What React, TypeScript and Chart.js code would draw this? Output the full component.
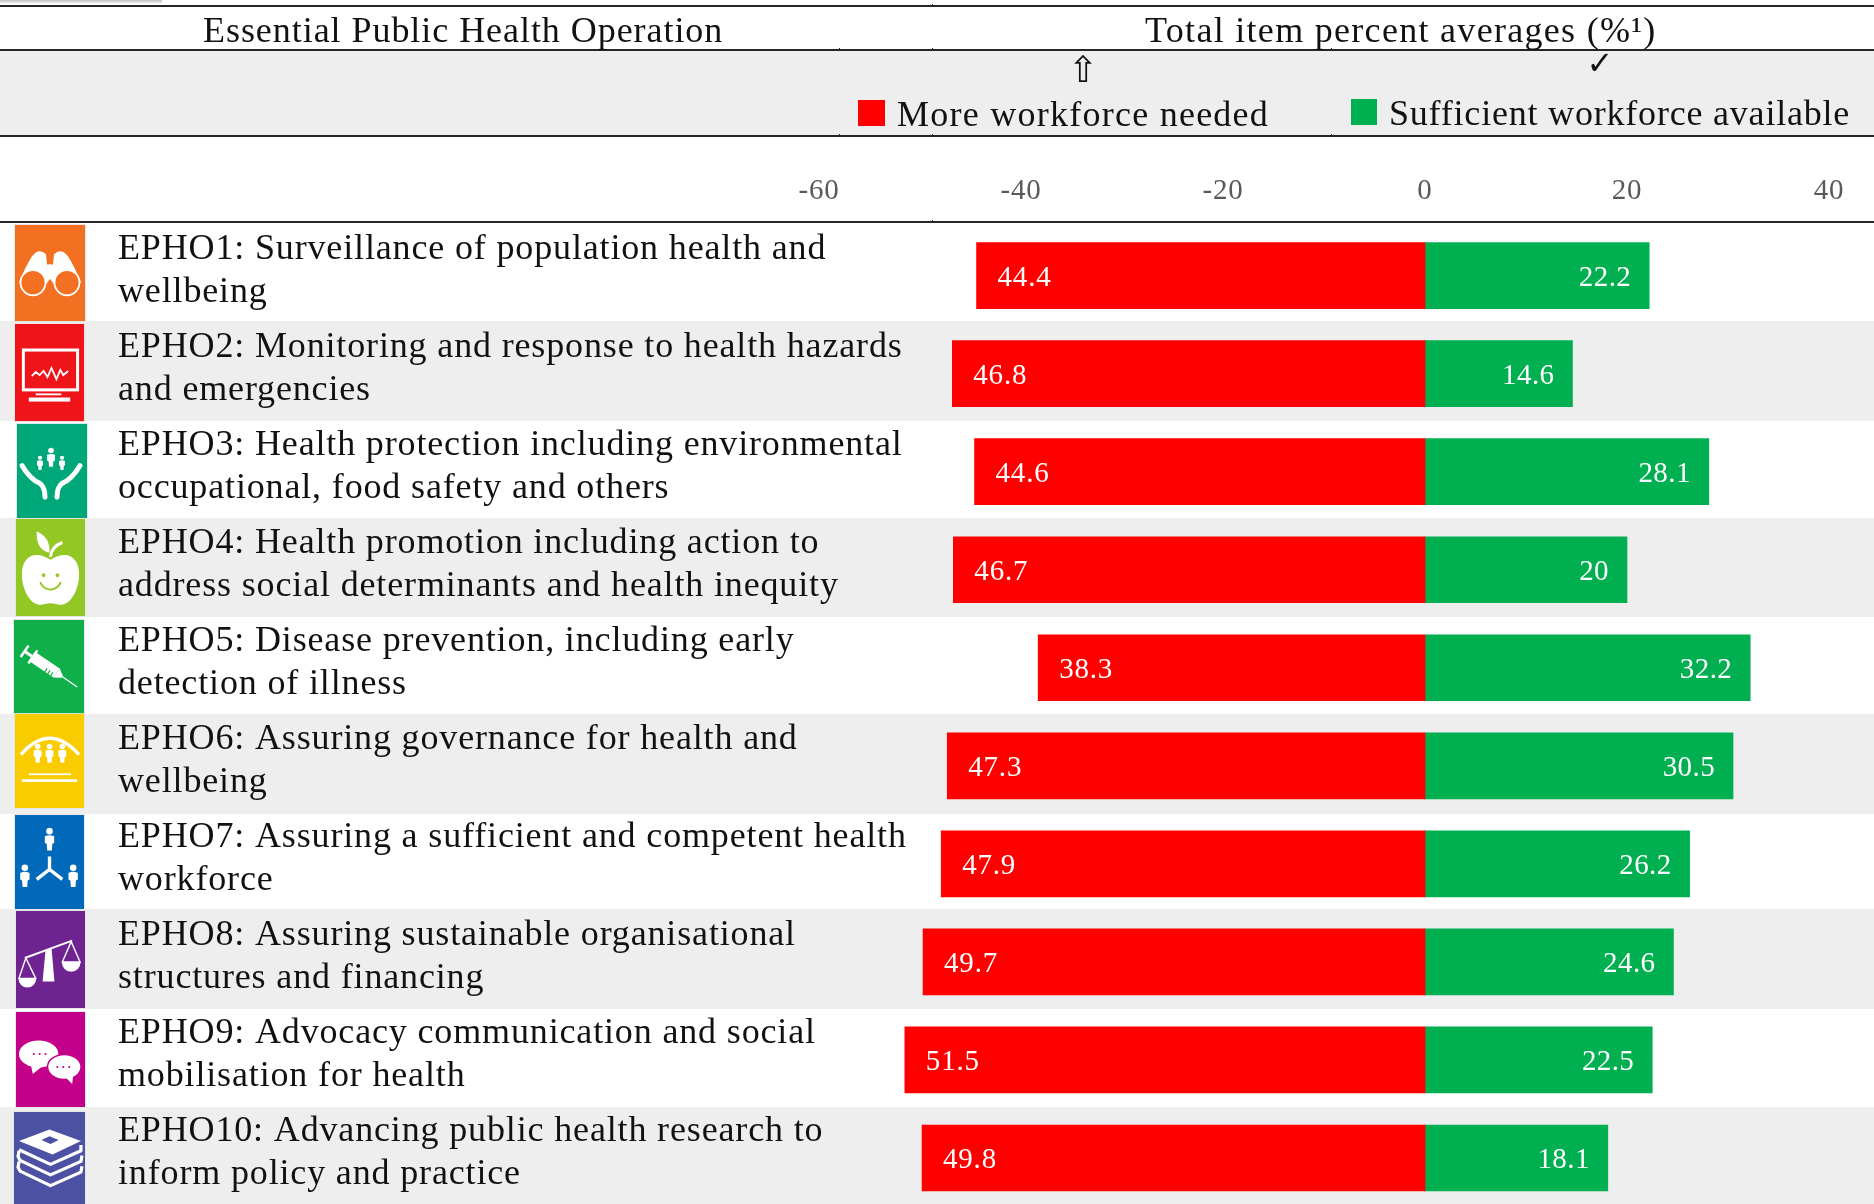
import React, { useEffect, useRef } from "react";
import { Chart, registerables } from "chart.js";

Chart.register(...registerables);

// ---- chart values ----
const categories = [
  ["EPHO1: Surveillance of population health and", "wellbeing"],
  ["EPHO2: Monitoring and response to health hazards", "and emergencies"],
  ["EPHO3: Health protection including environmental", "occupational, food safety and others"],
  ["EPHO4: Health promotion including action to", "address social determinants and health inequity"],
  ["EPHO5: Disease prevention, including early", "detection of illness"],
  ["EPHO6: Assuring governance for health and", "wellbeing"],
  ["EPHO7: Assuring a sufficient and competent health", "workforce"],
  ["EPHO8: Assuring sustainable organisational", "structures and financing"],
  ["EPHO9: Advocacy communication and social", "mobilisation for health"],
  ["EPHO10: Advancing public health research to", "inform policy and practice"],
];
const moreWorkforceNeeded = [-44.4, -46.8, -44.6, -46.7, -38.3, -47.3, -47.9, -49.7, -51.5, -49.8];
const sufficientWorkforce = [22.2, 14.6, 28.1, 20, 32.2, 30.5, 26.2, 24.6, 22.5, 18.1];
const columnTitles = ["Essential Public Health Operation", "Total item percent averages (%¹)"];
const seriesLabels = ["More workforce needed", "Sufficient workforce available"];

// ---- styling and table layout ----
const SERIF = '"Liberation Serif", serif';
const RED = "#FF0000";
const GREEN = "#00B050";
const BAND = "#EEEEEE";
const LINE = "#262626";
const TRACKING = "0.85px";
const ROW_LIFT = 4.5;
const HEAD_LINES = [6, 50, 136, 222];
const BANDS: [number, number][] = [[50, 136], [321, 421], [518, 617], [714, 814], [909, 1009], [1107, 1207]];
const STUBS: [number, number][] = [[932, 6], [932, 50], [839, 50], [932, 136], [839, 136], [1331, 136], [932, 222], [1331, 50]];
const ICON_COLOURS = ["#F36F21", "#EF1419", "#00A778", "#93C724", "#0FB04A", "#F9CC00", "#0069B9", "#6F2391", "#C4008A", "#4D51A3"];
const ICON_BOXES: [number, number, number, number][] = [
  [15, 225, 70, 96], [15, 324, 69, 97], [17, 424, 70, 94], [16, 519, 69, 97], [14, 620, 70, 94],
  [15, 714, 69, 94], [15, 815, 69, 94], [16, 911, 69, 97], [16, 1012, 69, 95], [14, 1112, 71, 92],
];

type Ctx = CanvasRenderingContext2D;

const disc = (c: Ctx, x: number, y: number, r: number) => {
  c.beginPath();
  c.arc(x, y, r, 0, Math.PI * 2);
  c.fill();
};
const oval = (c: Ctx, x: number, y: number, rx: number, ry: number) => {
  c.beginPath();
  c.ellipse(x, y, rx, ry, 0, 0, Math.PI * 2);
  c.fill();
};
const poly = (c: Ctx, pts: number[], close = true) => {
  c.beginPath();
  c.moveTo(pts[0], pts[1]);
  for (let i = 2; i < pts.length; i += 2) c.lineTo(pts[i], pts[i + 1]);
  if (close) c.closePath();
};
const person = (c: Ctx, x: number, y: number, s: number) => {
  disc(c, x, y + 3.5 * s, 3.5 * s);
  c.beginPath();
  c.moveTo(x - 5 * s, y + 9 * s);
  c.quadraticCurveTo(x, y + 6.5 * s, x + 5 * s, y + 9 * s);
  c.lineTo(x + 5 * s, y + 16 * s);
  c.lineTo(x + 3 * s, y + 17 * s);
  c.lineTo(x + 2.5 * s, y + 24 * s);
  c.lineTo(x - 2.5 * s, y + 24 * s);
  c.lineTo(x - 3 * s, y + 17 * s);
  c.lineTo(x - 5 * s, y + 16 * s);
  c.closePath();
  c.fill();
};

// Pictograms for the ten operations, in a 70 x 95 box, white on the tile colour.
const pictograms: ((c: Ctx, bg: string) => void)[] = [
  (c, bg) => {
    for (const m of [1, -1]) {
      c.save();
      if (m < 0) { c.translate(70, 0); c.scale(-1, 1); }
      c.beginPath();
      c.moveTo(4, 57);
      c.quadraticCurveTo(10, 42, 17, 31);
      c.quadraticCurveTo(24, 22, 31, 29);
      c.lineTo(32, 39);
      c.lineTo(36, 39);
      c.lineTo(36, 52);
      c.lineTo(30, 60);
      c.closePath();
      c.fill();
      c.beginPath();
      c.arc(18, 57, 12.5, 0, Math.PI * 2);
      c.fillStyle = bg;
      c.fill();
      c.strokeStyle = "#fff";
      c.lineWidth = 1.8;
      c.stroke();
      c.restore();
    }
  },
  (c) => {
    c.lineWidth = 3;
    c.strokeRect(8.5, 25.5, 55, 39);
    c.lineWidth = 1.8;
    poly(c, [17, 51, 21, 47, 25, 50, 29, 46, 33, 52, 37, 43, 42, 54, 46, 45, 49, 50, 54, 46], false);
    c.stroke();
    c.fillRect(21, 68, 26, 1.8);
    c.fillRect(14, 72, 42, 4);
  },
  (c) => {
    person(c, 34, 24, 0.8);
    person(c, 23, 32, 0.6);
    person(c, 45, 32, 0.6);
    c.lineWidth = 5;
    c.lineCap = "round";
    for (const m of [1, -1]) {
      c.save();
      if (m < 0) { c.translate(68, 0); c.scale(-1, 1); }
      c.beginPath();
      c.moveTo(5, 42);
      c.quadraticCurveTo(13, 56, 23, 60);
      c.quadraticCurveTo(28, 64, 28, 74);
      c.stroke();
      c.restore();
    }
  },
  (c, bg) => {
    c.beginPath();
    c.moveTo(35, 40);
    c.bezierCurveTo(20, 30, 5, 36, 6, 56);
    c.bezierCurveTo(7, 72, 16, 85, 26, 84);
    c.quadraticCurveTo(35, 81, 44, 84);
    c.bezierCurveTo(54, 85, 63, 72, 64, 56);
    c.bezierCurveTo(65, 36, 50, 30, 35, 40);
    c.fill();
    c.beginPath();
    c.moveTo(21, 12);
    c.quadraticCurveTo(35, 18, 34, 33);
    c.quadraticCurveTo(20, 30, 21, 12);
    c.fill();
    c.lineWidth = 3;
    c.beginPath();
    c.moveTo(35, 37);
    c.quadraticCurveTo(36, 27, 47, 23);
    c.stroke();
    c.fillStyle = bg;
    c.strokeStyle = bg;
    disc(c, 28, 55, 1.8);
    disc(c, 42, 55, 1.8);
    c.lineWidth = 1.8;
    c.beginPath();
    c.arc(35, 58, 11, 0.35, Math.PI - 0.35);
    c.stroke();
  },
  (c, bg) => {
    c.translate(36, 49);
    c.rotate(0.6);
    c.fillRect(-22, -5.5, 30, 11);
    poly(c, [8, -5.5, 15, -1, 15, 1, 8, 5.5]);
    c.fill();
    c.fillRect(15, -0.6, 18, 1.2);
    c.fillRect(-30, -1.5, 8, 3);
    c.fillRect(-32, -7, 2.5, 14);
    c.fillRect(-22, -8, 2.5, 16);
    c.fillStyle = bg;
    for (let k = 0; k < 3; k++) c.fillRect(-3 + k * 3.5, 1.5, 1.2, 4);
  },
  (c) => {
    c.lineWidth = 3.4;
    c.beginPath();
    c.moveTo(6, 41);
    c.quadraticCurveTo(35, 8, 65, 41);
    c.stroke();
    person(c, 23, 30, 0.8);
    person(c, 35, 30, 0.8);
    person(c, 48, 30, 0.8);
    c.fillRect(14, 60, 43, 1.8);
    c.fillRect(7, 66, 56, 2.6);
  },
  (c) => {
    person(c, 35, 13, 0.95);
    person(c, 10, 50, 0.95);
    person(c, 59, 50, 0.95);
    c.lineWidth = 3.4;
    c.beginPath();
    c.moveTo(35, 42);
    c.lineTo(35, 55);
    c.lineTo(22, 65);
    c.moveTo(35, 55);
    c.lineTo(48, 65);
    c.stroke();
  },
  (c) => {
    c.lineWidth = 2;
    poly(c, [9, 46, 57, 29], false);
    c.stroke();
    poly(c, [30, 38, 36, 36, 39, 69, 27, 69]);
    c.fill();
    c.lineWidth = 1.4;
    poly(c, [10, 46, 3, 66, 20, 66]);
    c.stroke();
    poly(c, [56, 30, 47, 50, 65, 50]);
    c.stroke();
    c.beginPath();
    c.arc(11.5, 66, 9, 0, Math.PI);
    c.fill();
    c.beginPath();
    c.arc(56, 50, 9.5, 0, Math.PI);
    c.fill();
  },
  (c, bg) => {
    oval(c, 23, 42, 20, 13.5);
    poly(c, [15, 52, 17, 62, 27, 54]);
    c.fill();
    c.strokeStyle = bg;
    c.lineWidth = 1.5;
    c.beginPath();
    c.ellipse(49, 55, 17, 12.5, 0, 0, Math.PI * 2);
    c.fill();
    c.stroke();
    poly(c, [50, 65, 57, 72, 58, 63]);
    c.fill();
    c.fillStyle = bg;
    for (const [x, y] of [[18, 42], [24, 42], [30, 42], [42, 55], [48, 55], [54, 55]]) disc(c, x, y, 1.1);
  },
  (c, bg) => {
    poly(c, [5, 30, 35, 18, 66, 30, 38, 44]);
    c.fill();
    c.fillStyle = bg;
    poly(c, [27, 29, 35, 25, 44, 29, 36, 33]);
    c.fill();
    c.lineWidth = 3.2;
    c.lineJoin = "round";
    poly(c, [5, 39, 36, 54, 66, 40, 66, 34], false);
    c.stroke();
    poly(c, [5, 40, 4, 46, 6, 50, 36, 65, 66, 51, 67, 45], false);
    c.stroke();
    poly(c, [5, 51, 4, 57, 6, 61, 36, 76, 66, 62, 67, 56], false);
    c.stroke();
  },
];

const tracked = (c: Ctx, text: string, x: number, y: number, spacing: string) => {
  (c as any).letterSpacing = spacing;
  c.fillText(text, x, y);
};

const tableDecor = {
  id: "tableDecor",
  beforeDraw(chart: any) {
    const c: Ctx = chart.ctx;
    c.save();
    c.fillStyle = BAND;
    for (const [a, b] of BANDS) c.fillRect(0, a, 1874, b - a);
    c.restore();
    // The row labels sit slightly above the centre of their bars.
    const yAxis = chart.scales.y;
    for (const item of yAxis.getLabelItems()) {
      if (!item.options.lifted) {
        item.options.translation[1] -= ROW_LIFT;
        item.options.lifted = true;
      }
    }
    (c as any).letterSpacing = TRACKING;
  },
  afterDraw(chart: any) {
    const c: Ctx = chart.ctx;
    c.save();

    // Rules and their short stubs.
    c.fillStyle = LINE;
    for (const y of HEAD_LINES) c.fillRect(0, y - 1, 1874, 2);
    for (const [x, y] of STUBS) c.fillRect(x, y - 2, 1, 3);

    // Faint remains of a shadow in the top corner.
    const g = c.createLinearGradient(0, 0, 0, 4);
    g.addColorStop(0, "#BDBDBD");
    g.addColorStop(1, "#FFFFFF");
    c.fillStyle = g;
    c.fillRect(0, 0, 162, 4);

    // Column titles.
    c.fillStyle = "#111";
    c.textBaseline = "middle";
    c.textAlign = "left";
    c.font = `36px ${SERIF}`;
    tracked(c, columnTitles[0], 203, 33, "0.95px");
    tracked(c, columnTitles[1], 1145, 33, "1.3px");

    // Legend row, with the arrow and the tick above the entries.
    const ds = chart.data.datasets;
    c.fillStyle = ds[0].backgroundColor;
    c.fillRect(858, 100, 27, 26);
    c.fillStyle = ds[1].backgroundColor;
    c.fillRect(1351, 99, 26, 26);
    c.fillStyle = "#111";
    tracked(c, ds[0].label, 897, 117, "1.25px");
    tracked(c, ds[1].label, 1389, 116, "0.8px");
    c.textAlign = "center";
    (c as any).letterSpacing = "0px";
    c.font = `36px "DejaVu Sans", sans-serif`;
    c.fillText("⇧", 1083, 73);
    c.font = `32px "DejaVu Sans", sans-serif`;
    c.fillText("✓", 1600, 66);

    // Value labels inside the bars.
    c.font = `29px ${SERIF}`;
    c.fillStyle = "#fff";
    ds.forEach((d: any, i: number) => {
      chart.getDatasetMeta(i).data.forEach((bar: any, k: number) => {
        const text = String(Math.abs(d.data[k]));
        c.textAlign = i === 0 ? "left" : "right";
        (c as any).letterSpacing = i === 0 ? "0.8px" : "0.4px";
        c.fillText(text, i === 0 ? bar.x + 21 : bar.x - 18, bar.y + 2.5);
      });
    });

    // Pictogram tiles beside the row labels.
    pictograms.forEach((draw, i) => {
      const [x, y, w, h] = ICON_BOXES[i];
      c.save();
      c.fillStyle = ICON_COLOURS[i];
      c.fillRect(x, y, w, h);
      c.strokeStyle = "rgba(228,228,228,0.9)";
      c.lineWidth = 1;
      c.strokeRect(x - 0.5, y - 0.5, w + 1, h + 1);
      c.translate(x, y);
      c.scale(w / 70, h / 95);
      c.fillStyle = "#fff";
      c.strokeStyle = "#fff";
      draw(c, ICON_COLOURS[i]);
      c.restore();
    });
    c.restore();
  },
};

export default function App() {
  const ref = useRef<HTMLCanvasElement | null>(null);

  useEffect(() => {
    if (!ref.current) return;
    const chart = new Chart(ref.current, {
      type: "bar",
      data: {
        labels: categories,
        datasets: [
          { label: seriesLabels[0], data: moreWorkforceNeeded, backgroundColor: RED, barThickness: 66 },
          { label: seriesLabels[1], data: sufficientWorkforce, backgroundColor: GREEN, barThickness: 66 },
        ],
      },
      plugins: [tableDecor],
      options: {
        indexAxis: "y",
        responsive: false,
        animation: false,
        layout: { padding: { left: 118, right: 45, top: 0, bottom: 0 } },
        plugins: { legend: { display: false }, title: { display: false }, tooltip: { enabled: false } },
        scales: {
          x: {
            position: "top",
            stacked: true,
            min: -60,
            max: 40,
            afterFit: (s: any) => { s.height = 226.6; s.paddingLeft = 0; s.paddingRight = 0; },
            grid: { display: false },
            border: { display: false },
            ticks: {
              stepSize: 20,
              autoSkip: false,
              maxRotation: 0,
              padding: 10,
              color: "#595959",
              font: { family: SERIF, size: 29 },
            },
          },
          y: {
            stacked: true,
            afterFit: (s: any) => { s.width = 701; s.paddingTop = 0; s.paddingBottom = 0; },
            grid: { display: false },
            border: { display: false },
            ticks: {
              autoSkip: false,
              mirror: true,
              padding: -701,
              color: "#111",
              font: { family: SERIF, size: 36, lineHeight: 43 / 36 },
            },
          },
        },
      },
    } as any);
    return () => chart.destroy();
  }, []);

  // The last table row runs off the foot of the page, so the canvas is a little
  // taller than its clipping frame.
  return (
    <div style={{ position: "absolute", left: 0, top: 0, width: 1874, height: 1204, overflow: "hidden" }}>
      <canvas
        ref={ref}
        width={1874}
        height={1207}
        style={{ display: "block", width: 1874, height: 1207 }}
      />
    </div>
  );
}
